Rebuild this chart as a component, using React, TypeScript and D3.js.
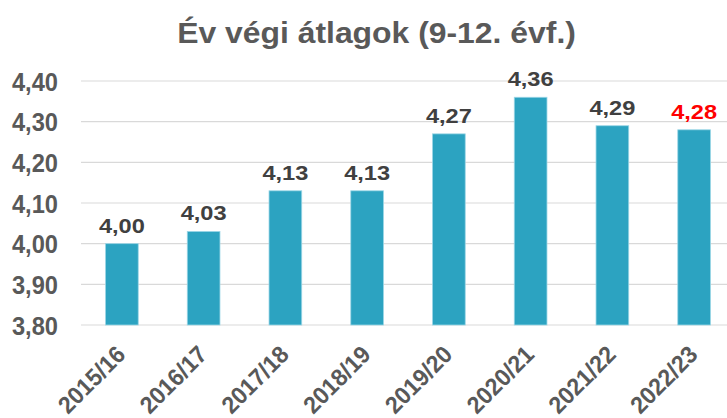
import React from "react";
import * as d3 from "d3";

const categories = ["2015/16", "2016/17", "2017/18", "2018/19", "2019/20", "2020/21", "2021/22", "2022/23"];
const values = [4.0, 4.03, 4.13, 4.13, 4.27, 4.36, 4.29, 4.28];
const yTicks = [3.8, 3.9, 4.0, 4.1, 4.2, 4.3, 4.4];
const title = "Év végi átlagok (9-12. évf.)";

const W = 727;
const H = 418;
const FONT = "'Liberation Sans', Arial, sans-serif";

const fmt = (v: number) => v.toFixed(2).replace(".", ",");

export default function App() {
  const x = d3.scaleBand<string>().domain(categories).range([81, 735]).paddingInner(0.6).paddingOuter(0.3);
  const y = d3.scaleLinear().domain([3.8, 4.4]).range([325, 81]);
  const bw = x.bandwidth();

  return (
    <svg width={W} height={H} style={{ position: "absolute", left: 0, top: 0, background: "#fff" }}>
      <rect width={W} height={H} fill="#fff" />
      <text
        transform={`translate(${W / 2 + 13},43) scale(1.1,1)`}
        textAnchor="middle"
        fontFamily={FONT}
        fontWeight="bold"
        fontSize={29}
        fill="#595959"
      >
        {title}
      </text>
      {yTicks.map((t) => (
        <g key={t}>
          <line x1={81} x2={W} y1={y(t)} y2={y(t)} stroke="#d9d9d9" strokeWidth={1.2} />
          <text
            transform={`translate(58,${y(t) + 9.5}) scale(0.91,1)`}
            textAnchor="end"
            fontFamily={FONT}
            fontWeight="bold"
            fontSize={26}
            fill="#595959"
          >
            {fmt(t)}
          </text>
        </g>
      ))}
      {categories.map((c, i) => {
        const x0 = x(c)!;
        const cx = x0 + bw / 2;
        const v = values[i];
        return (
          <g key={c}>
            <rect
              x={x0}
              y={y(v)}
              width={bw}
              height={y(3.8) - y(v)}
              fill="#2ca3c1"
              stroke="#9bd6e6"
              strokeWidth={0.8}
            />
            <text
              transform={`translate(${cx},${y(v) - 11}) scale(1.18,1)`}
              textAnchor="middle"
              fontFamily={FONT}
              fontWeight="bold"
              fontSize={20}
              fill={i === categories.length - 1 ? "#ff0000" : "#404040"}
            >
              {fmt(v)}
            </text>
            <text
              transform={`translate(${cx + 5},${356}) rotate(-45) scale(0.96,1)`}
              textAnchor="end"
              fontFamily={FONT}
              fontWeight="bold"
              fontSize={24}
              fill="#595959"
            >
              {c}
            </text>
          </g>
        );
      })}
    </svg>
  );
}
